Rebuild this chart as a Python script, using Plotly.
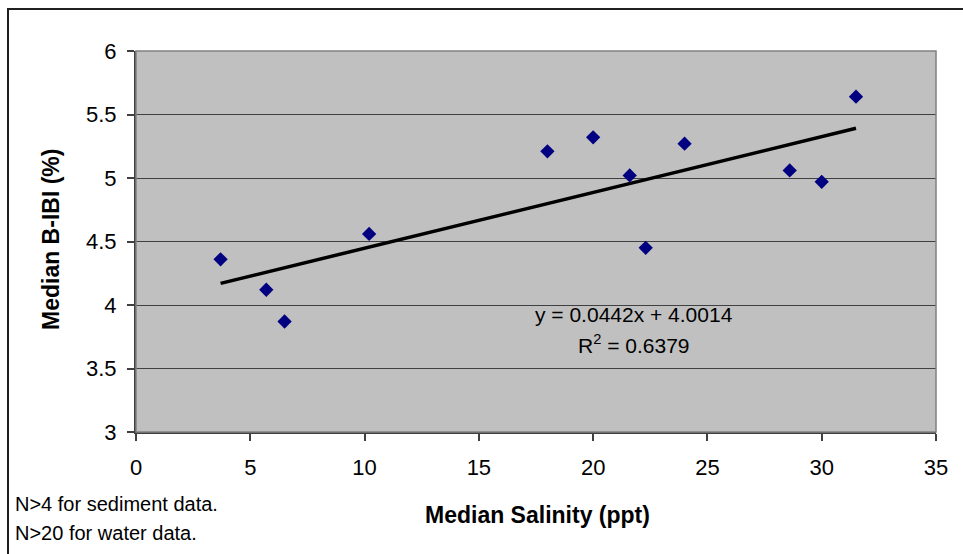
import numpy as np
import plotly.graph_objects as go

# Data
salinity = [3.7, 5.7, 6.5, 10.2, 18.0, 20.0, 21.6, 22.3, 24.0, 28.6, 30.0, 31.5]
bibi = [4.36, 4.12, 3.87, 4.56, 5.21, 5.32, 5.02, 4.45, 5.27, 5.06, 4.97, 5.64]

x_ticks = [0, 5, 10, 15, 20, 25, 30, 35]
y_ticks = [3, 3.5, 4, 4.5, 5, 5.5, 6]

eq_text = "y = 0.0442x + 4.0014"
r2_text = "R<sup>2</sup> = 0.6379"
notes = ["N>4 for sediment data.", "N>20 for water data."]

x_title = "Median Salinity (ppt)"
y_title = "Median B-IBI (%)"

# Linear trendline fitted to the data
slope, intercept = np.polyfit(salinity, bibi, 1)
tx = np.array([min(salinity), max(salinity)])
ty = slope * tx + intercept

fig = go.Figure()
fig.add_trace(go.Scatter(
    x=tx, y=ty, mode="lines",
    line=dict(color="black", width=3.5),
    hoverinfo="skip", showlegend=False,
))
fig.add_trace(go.Scatter(
    x=salinity, y=bibi, mode="markers",
    marker=dict(symbol="diamond", size=11, color="#000080",
                line=dict(width=0)),
    showlegend=False,
))

font_family = "Liberation Sans, Arial, sans-serif"

L, R, T, B = 136, 27, 51, 122
W, H = 963, 554
pw, ph = W - L - R, H - T - B

def px_x(p):
    return (p - L) / pw

def px_y(p):
    return (H - B - p) / ph

def note(px, py, text, size, bold=False, xanchor="center", angle=0):
    return dict(x=px_x(px), y=px_y(py), xref="paper", yref="paper",
                text=("<b>" + text + "</b>") if bold else text,
                showarrow=False, xanchor=xanchor, yanchor="middle",
                textangle=angle, font=dict(size=size))

fig.update_layout(
    width=W, height=H,
    margin=dict(l=L, r=R, t=T, b=B),
    paper_bgcolor="white",
    plot_bgcolor="#C0C0C0",
    font=dict(family=font_family, size=22, color="black"),
    xaxis=dict(
        range=[0, 35], tickvals=x_ticks, ticks="outside", ticklen=7,
        tickcolor="#404040", tickwidth=1.5, showgrid=False, zeroline=False,
        showline=True, linecolor="#404040", linewidth=2,
        mirror=False, fixedrange=True, ticklabelstandoff=8,
    ),
    yaxis=dict(
        range=[3, 6], tickvals=y_ticks, ticks="outside", ticklen=7,
        tickcolor="#404040", tickwidth=1.5, showgrid=True, gridcolor="#404040",
        gridwidth=1, zeroline=False,
        showline=True, linecolor="#404040", linewidth=2,
        fixedrange=True, ticklabelstandoff=6,
    ),
    shapes=[
        # plot area border (right/top)
        dict(type="rect", xref="paper", yref="paper", x0=0, y0=0, x1=1, y1=1,
             line=dict(color="#808080", width=1.5), layer="above"),
        # outer chart border
        dict(type="rect", xref="paper", yref="paper",
             x0=px_x(8), y0=px_y(600), x1=px_x(1000), y1=px_y(9),
             line=dict(color="#202020", width=2)),
    ],
    annotations=[
        note(634, 314, eq_text, 21),
        note(634, 344, r2_text, 21),
        note(537, 515, x_title, 23, bold=True),
        note(51, 240, y_title, 23, bold=True, angle=-90),
        note(13, 504, notes[0], 20, xanchor="left"),
        note(13, 533, notes[1], 20, xanchor="left"),
    ],
)

fig.write_html("out.html", config={"displayModeBar": False},
               post_script="document.body.style.margin='0';")
